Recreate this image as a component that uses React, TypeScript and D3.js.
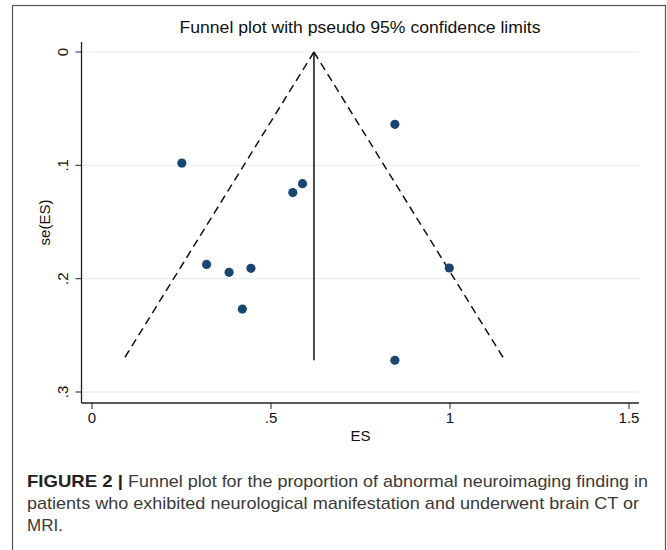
import React from "react";
import * as d3 from "d3";

const esValues = [0.846, 0.251, 0.588, 0.561, 0.32, 0.383, 0.444, 0.42, 0.998, 0.846];
const seValues = [0.0638, 0.098, 0.1162, 0.124, 0.1874, 0.1944, 0.1909, 0.2268, 0.1906, 0.272];
const pooledES = 0.62;
const xTicks = [0, 0.5, 1, 1.5];
const xTickLabels = ["0", ".5", "1", "1.5"];
const yTicks = [0, 0.1, 0.2, 0.3];
const yTickLabels = ["0", ".1", ".2", ".3"];
const titleText = "Funnel plot with pseudo 95% confidence limits";
const captionBold = "FIGURE 2 |";
const captionLines = [
  "Funnel plot for the proportion of abnormal neuroimaging finding in",
  "patients who exhibited neurological manifestation and underwent brain CT or",
  "MRI.",
];

const W = 667;
const H = 550;
const font = "'Liberation Sans', Arial, Helvetica, sans-serif";

export default function App() {
  const x = d3.scaleLinear().domain([0, 1.5]).range([92, 629]);
  const y = d3.scaleLinear().domain([0, 0.3]).range([52, 392]);
  const plotLeft = 81.5;
  const plotRight = 639;
  const plotTop = 42;
  const plotBottom = 403;
  const seMax = d3.max(seValues) as number;
  const z = 1.96;
  const line = d3
    .line<[number, number]>()
    .x((d) => x(d[0]))
    .y((d) => y(d[1]));
  const leftLimit: [number, number][] = [
    [pooledES, 0],
    [pooledES - z * seMax, seMax],
  ];
  const rightLimit: [number, number][] = [
    [pooledES, 0],
    [pooledES + z * seMax, seMax],
  ];
  const center: [number, number][] = [
    [pooledES, 0],
    [pooledES, seMax],
  ];
  const navy = "#1a476f";
  return (
    <svg
      width={W}
      height={H}
      style={{ position: "absolute", left: 0, top: 0, background: "#fff" }}
      fontFamily={font}
    >
      <rect x={0} y={0} width={W} height={H} fill="#fff" />
      <rect x={12.5} y={5.5} width={653} height={600} fill="none" stroke="#555" strokeWidth={1.2} />
      {yTicks.map((t) => (
        <line key={"g" + t} x1={plotLeft} x2={plotRight} y1={y(t)} y2={y(t)} stroke="#e0ecef" strokeWidth={1} />
      ))}
      <line x1={plotLeft} x2={plotLeft} y1={plotTop} y2={plotBottom} stroke="#222" strokeWidth={1.3} />
      <line x1={plotLeft} x2={plotRight} y1={plotBottom} y2={plotBottom} stroke="#222" strokeWidth={1.3} />
      {yTicks.map((t, i) => (
        <g key={"yt" + t}>
          <line x1={plotLeft - 6} x2={plotLeft} y1={y(t)} y2={y(t)} stroke="#222" strokeWidth={1} />
          <text
            transform={`translate(67.5,${y(t)}) rotate(-90)`}
            textAnchor="middle"
            fontSize={15}
            fill="#111"
          >
            {yTickLabels[i]}
          </text>
        </g>
      ))}
      {xTicks.map((t, i) => (
        <g key={"xt" + t}>
          <line x1={x(t)} x2={x(t)} y1={plotBottom} y2={plotBottom + 6} stroke="#222" strokeWidth={1} />
          <text x={x(t)} y={423} textAnchor="middle" fontSize={15} fill="#111">
            {xTickLabels[i]}
          </text>
        </g>
      ))}
      <path d={line(leftLimit) || ""} fill="none" stroke="#111" strokeWidth={1.5} strokeDasharray="8,5" />
      <path d={line(rightLimit) || ""} fill="none" stroke="#111" strokeWidth={1.5} strokeDasharray="8,5" />
      <path d={line(center) || ""} fill="none" stroke="#111" strokeWidth={1.5} />
      {esValues.map((v, i) => (
        <circle key={"p" + i} cx={x(v)} cy={y(seValues[i])} r={4.6} fill={navy} />
      ))}
      <text x={360} y={33} textAnchor="middle" fontSize={17} fill="#111" textLength={361} lengthAdjust="spacingAndGlyphs">
        {titleText}
      </text>
      <text x={360.5} y={441} textAnchor="middle" fontSize={15} fill="#111">
        ES
      </text>
      <text transform="translate(50,222.5) rotate(-90)" textAnchor="middle" fontSize={15} fill="#111">
        se(ES)
      </text>
      <text x={27} y={487} fontSize={17} fontWeight="bold" fill="#222" textLength={96} lengthAdjust="spacingAndGlyphs">
        {captionBold}
      </text>
      <text x={128} y={487} fontSize={17} fill="#3a3a3a" textLength={520} lengthAdjust="spacingAndGlyphs">
        {captionLines[0]}
      </text>
      <text x={27} y={509} fontSize={17} fill="#3a3a3a" textLength={612} lengthAdjust="spacingAndGlyphs">
        {captionLines[1]}
      </text>
      <text x={27} y={531} fontSize={17} fill="#3a3a3a">
        {captionLines[2]}
      </text>
    </svg>
  );
}
